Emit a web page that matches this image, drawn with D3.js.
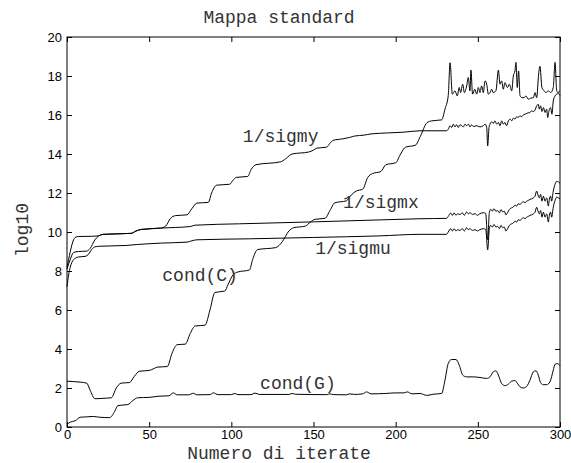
<html>
<head>
<meta charset="utf-8">
<style>
  body { margin: 0; background: #fff; }
  .tick text { font-family: "Liberation Sans", Arial, sans-serif; font-size: 13px; fill: #000; }
  .lbl { font-family: "Liberation Mono", "Courier New", monospace; font-size: 18px; fill: #333; }
</style>
</head>
<body>
<div id="chart"></div>
<script src="https://d3js.org/d3.v7.min.js"></script>
<script>

// tick values
var xTicks = [0, 50, 100, 150, 200, 250, 300];
var yTicks = [0, 2, 4, 6, 8, 10, 12, 14, 16, 18, 20];

// series [iterate, log10 value]
var condC = [[0,2.35],[4,2.33],[8,2.3],[12,2.25],[14,1.9],[17,1.45],[22,1.47],[27,1.5],[30,2.0],[33,2.25],[38,2.28],
  [41,2.6],[44,2.86],[50,2.9],[53,3.0],[55,3.07],[61,3.1],[64,3.8],[67,4.22],[72,4.25],[75,4.8],[78,5.18],[84,5.22],
  [87,6.0],[90,6.9],[96,6.97],[98,7.3],[101,7.8],[104,7.95],[111,8.05],[113,8.6],[116,9.1],[127,9.2],[131,9.5],
  [135,10.05],[138,10.22],[145,10.3],[148,10.5],[151,10.65],[157,10.7],[160,11.1],[163,11.5],[170,11.6],[173,11.9],
  [176,12.1],[180,12.2],[183,12.8],[186,13.0],[191,13.1],[194,13.45],[200,13.55],[203,14.0],[206,14.35],[212,14.45],
  [215,14.9],[219,15.6],[222,15.7],[228,15.75],[230,16.3],[232,17.0],[233.1,18.68],[234.5,17.07],[236.1,17.24],
  [237.5,16.98],[238.7,17.41],[239.5,17.15],[240.8,17.58],[241.8,17.15],[243.2,17.49],[244.2,17.92],[245.2,17.24],
  [245.8,18.3],[246.8,17.07],[248.1,17.32],[249.3,17.07],[250.3,17.41],[251.3,17.15],[252.3,17.49],[253.3,17.15],
  [254.4,17.75],[255.4,17.58],[256.4,17.07],[257.4,17.15],[258.4,17.32],[259.4,17.15],[261,17.24],[262.5,18.3],
  [263.5,17.58],[264.5,17.75],[265.5,17.32],[266.5,17.66],[268,17.41],[269.2,17.58],[270.6,17.24],[271.6,18.0],
  [272.6,18.26],[273.2,18.7],[274,17.41],[274.8,18.26],[275.7,16.98],[276.9,16.89],[278.1,16.89],[279.3,16.98],
  [280.7,16.81],[282.1,16.86],[283.8,16.89],[284.8,17.15],[285.8,16.89],[287,18.1],[287.8,18.5],[289,17.41],
  [290.3,17.24],[291.5,17.15],[292.9,17.24],[294.3,17.15],[295.9,17.41],[297,18.7],[298,17.24],[298.8,17.15],[299.6,17.24]];

var sigmy = [[0,8.1],[2,8.6],[4,8.95],[7,9.0],[12,9.02],[14,9.15],[17,9.6],[19,9.78],[22,9.88],[39,9.93],[42,10.05],
  [45,10.13],[57,10.2],[60,10.3],[63,10.7],[66,10.84],[73,10.88],[76,11.2],[79,11.48],[86,11.52],[88,12.0],[91,12.4],
  [99,12.45],[101,12.65],[103,12.8],[110,12.85],[112,13.2],[115,13.45],[130,13.6],[133,13.75],[137,14.0],[147,14.1],
  [150,14.2],[152,14.3],[158,14.35],[160,14.55],[162,14.7],[168,14.78],[172,14.85],[175,14.92],[181,14.97],[185,15.03],
  [195,15.08],[205,15.12],[214.8,15.19],[231,15.19],[232,15.27],[233.1,15.45],[234.1,15.36],[235.1,15.53],[236.1,15.39],
  [237.1,15.5],[238.1,15.36],[239.1,15.5],[240.2,15.45],[241.2,15.39],[242.2,15.53],[243.2,15.45],[244.2,15.53],
  [245.2,15.39],[246.2,15.5],[247.3,15.41],[249.3,15.45],[251.3,15.39],[253.3,15.45],[254.4,15.53],[255.4,15.36],
  [256,14.42],[256.8,15.36],[257.4,15.53],[258.4,15.65],[259.4,15.57],[260.4,15.7],[261.5,15.53],[262.5,15.62],
  [263.5,15.45],[264.5,15.7],[265.5,15.53],[266.5,15.62],[267.5,15.45],[268.6,15.7],[269.6,15.79],[270.6,15.7],
  [271.6,15.84],[272.6,15.79],[273.6,15.91],[274.6,15.87],[275.7,15.96],[276.7,15.91],[277.7,16.01],[278.7,16.04],
  [279.7,16.08],[280.7,16.11],[281.7,16.13],[282.8,16.21],[283.8,16.18],[284.8,16.25],[285.8,16.47],[286.8,16.55],
  [287.4,16.3],[288.2,16.47],[289,16.18],[289.9,16.38],[290.9,16.13],[291.9,16.3],[292.5,15.87],[293.3,16.21],
  [294.3,16.38],[295.1,16.04],[295.9,16.72],[297,16.98],[298,17.07],[299,17.1],[300,17.0]];

var sigmx = [[0,8.2],[1,8.6],[2,9.0],[3,9.35],[4,9.6],[5,9.72],[7,9.77],[15,9.78],[19,9.8],[22,9.88],[39,9.93],
  [42,10.05],[45,10.13],[57,10.2],[75,10.28],[78,10.35],[105,10.42],[150,10.52],[190,10.62],[214.8,10.68],[231,10.7],
  [232,10.8],[233.5,10.97],[234.5,10.85],[235.5,10.98],[236.7,10.86],[237.7,10.93],[239.1,10.9],[240.6,10.98],
  [241.8,10.86],[243.2,11.03],[244.2,10.93],[245.2,10.99],[246.8,10.9],[248.3,10.94],[249.7,10.86],[251.3,10.94],
  [253.3,10.99],[254.8,10.95],[256,9.6],[257,10.99],[257.8,11.16],[258.8,11.07],[259.8,11.2],[261,11.06],[262.1,11.1],
  [263.1,10.98],[264.1,11.15],[265.1,11.03],[266.1,11.07],[267.1,10.88],[268.1,11.0],[269.2,11.16],[270.6,11.24],
  [271.6,11.28],[272.6,11.38],[273.6,11.33],[274.6,11.45],[275.7,11.41],[276.7,11.5],[277.7,11.55],[278.7,11.5],
  [279.7,11.58],[280.7,11.62],[281.7,11.67],[283.8,11.75],[284.8,11.84],[285.8,12.1],[286.8,11.84],[287.4,11.75],
  [288.2,11.93],[289,11.58],[289.9,11.84],[290.9,11.58],[291.9,11.75],[292.9,11.33],[293.5,11.67],[294.3,11.84],
  [294.9,11.58],[295.9,12.1],[297,12.45],[298,12.6],[299,12.57],[300,12.5]];

var sigmu = [[0,7.2],[1,7.8],[2,8.2],[3,8.45],[5,8.65],[7,8.72],[11,8.75],[13,8.85],[15,9.1],[17,9.24],[20,9.27],
  [36,9.31],[43,9.36],[57,9.43],[73,9.48],[76,9.55],[79,9.6],[111,9.65],[150,9.72],[190,9.8],[214.8,9.88],[231,9.88],
  [232,10.0],[233.5,10.17],[234.5,10.05],[235.5,10.17],[236.7,10.05],[237.7,10.12],[239.1,10.08],[240.6,10.17],
  [241.8,10.05],[243.2,10.22],[244.2,10.12],[245.2,10.17],[246.8,10.08],[248.3,10.12],[249.7,10.05],[251.3,10.12],
  [253.3,10.17],[254.8,10.13],[256,9.09],[257,10.17],[257.8,10.34],[258.8,10.25],[259.8,10.39],[261,10.25],[262.1,10.29],
  [263.1,10.17],[264.1,10.34],[265.1,10.22],[266.1,10.25],[267.1,10.05],[268.1,10.17],[269.2,10.34],[270.6,10.42],
  [271.6,10.46],[272.6,10.56],[273.6,10.51],[274.6,10.63],[275.7,10.59],[276.7,10.68],[277.7,10.73],[278.7,10.68],
  [279.7,10.76],[280.7,10.8],[281.7,10.85],[283.8,10.93],[284.8,11.02],[285.8,11.27],[286.8,11.02],[287.4,10.93],
  [288.2,11.1],[289,10.76],[289.9,11.02],[290.9,10.76],[291.9,10.93],[292.9,10.51],[293.5,10.85],[294.3,11.02],
  [294.9,10.76],[295.9,11.27],[297,11.62],[298,11.79],[299,11.75],[300,11.7]];

var condG = [[0,0.12],[2,0.25],[5,0.32],[8,0.5],[12,0.52],[16,0.54],[20,0.5],[26,0.48],[29,0.8],[31,1.1],[37,1.15],
  [40,1.35],[43,1.5],[50,1.52],[56,1.58],[62,1.6],[64.7,1.75],[67,1.65],[74,1.65],[76.9,1.73],[79,1.65],[87,1.66],
  [89,1.75],[92,1.66],[100,1.66],[102,1.72],[104,1.66],[112,1.66],[114.4,1.74],[117,1.67],[135,1.67],[137,1.72],
  [139,1.68],[158,1.66],[160,1.7],[162,1.66],[170,1.65],[172,1.7],[175,1.67],[180,1.7],[182.3,1.8],[185,1.7],
  [194,1.72],[200,1.75],[205,1.75],[207,1.8],[210,1.7],[214.8,1.72],[218.9,1.62],[222.9,1.68],[228,1.72],[230,2.4],
  [232,3.26],[234,3.46],[236.7,3.46],[238.7,3.17],[240.8,2.66],[243.2,2.57],[247.3,2.57],[251.3,2.54],[255.4,2.49],
  [257.4,2.57],[259.4,2.83],[261,2.88],[262.5,2.66],[264.5,2.23],[266.5,2.12],[268.6,2.2],[270.6,2.35],[272.6,2.38],
  [274,2.25],[275.7,2.06],[277.7,2.0],[279.7,2.08],[281.7,2.4],[283.8,2.83],[285.4,2.88],[286.8,2.66],[288.2,2.27],
  [289.9,2.17],[291.9,2.17],[293.9,2.32],[295.9,2.91],[297,3.22],[298.4,3.25],[300,3.15]];

// text labels placed at data coordinates (left edge, baseline)
var labels = [
  { text: "1/sigmy", x: 107, y: 14.6 },
  { text: "1/sigmx", x: 168, y: 11.25 },
  { text: "1/sigmu", x: 151, y: 8.85 },
  { text: "cond(C)", x: 58, y: 7.5 },
  { text: "cond(G)", x: 117.5, y: 1.95 }
];

var width = 571;
var height = 463;

var svg = d3.select("#chart")
  .append("svg")
  .attr("width", width)
  .attr("height", height);

var x = d3.scaleLinear().domain([0, 300]).range([67, 560]);
var y = d3.scaleLinear().domain([0, 20]).range([427, 37]);

// axes with inward ticks, MATLAB style box
svg.append("g")
  .attr("transform", "translate(0," + y(0) + ")")
  .call(d3.axisBottom(x).tickValues(xTicks).tickSizeInner(-5).tickSizeOuter(0).tickPadding(3))
  .call(g => g.select(".domain").remove());

svg.append("g")
  .attr("transform", "translate(0," + y(20) + ")")
  .call(d3.axisTop(x).tickValues(xTicks).tickSizeInner(-5).tickSizeOuter(0).tickFormat(""))
  .call(g => g.select(".domain").remove());

svg.append("g")
  .attr("transform", "translate(" + x(0) + ",0)")
  .call(d3.axisLeft(y).tickValues(yTicks).tickSizeInner(-5).tickSizeOuter(0).tickPadding(5))
  .call(g => g.select(".domain").remove());

svg.append("g")
  .attr("transform", "translate(" + x(300) + ",0)")
  .call(d3.axisRight(y).tickValues(yTicks).tickSizeInner(-5).tickSizeOuter(0).tickFormat(""))
  .call(g => g.select(".domain").remove());

svg.append("rect")
  .attr("x", x(0))
  .attr("y", y(20))
  .attr("width", x(300) - x(0))
  .attr("height", y(0) - y(20))
  .style("fill", "none")
  .style("stroke", "black")
  .style("stroke-width", 1);

var line = d3.line()
  .x(d => x(d[0]))
  .y(d => y(d[1]))
  .curve(d3.curveMonotoneX);

[condC, sigmy, sigmx, sigmu, condG].forEach(function(s) {
  svg.append("path")
    .datum(s)
    .attr("d", line)
    .style("fill", "none")
    .style("stroke", "black")
    .style("stroke-width", 1);
});

svg.selectAll(null)
  .data(labels)
  .enter()
  .append("text")
  .attr("class", "lbl")
  .attr("x", d => x(d.x))
  .attr("y", d => y(d.y))
  .text(d => d.text);

// title and axis labels
svg.append("text").attr("class", "lbl")
  .attr("x", 279).attr("y", 23)
  .attr("text-anchor", "middle")
  .text("Mappa standard");

svg.append("text").attr("class", "lbl")
  .attr("x", 279).attr("y", 459)
  .attr("text-anchor", "middle")
  .text("Numero di iterate");

svg.append("text").attr("class", "lbl")
  .attr("transform", "translate(28,230) rotate(-90)")
  .attr("text-anchor", "middle")
  .text("log10");

</script>
</body>
</html>
